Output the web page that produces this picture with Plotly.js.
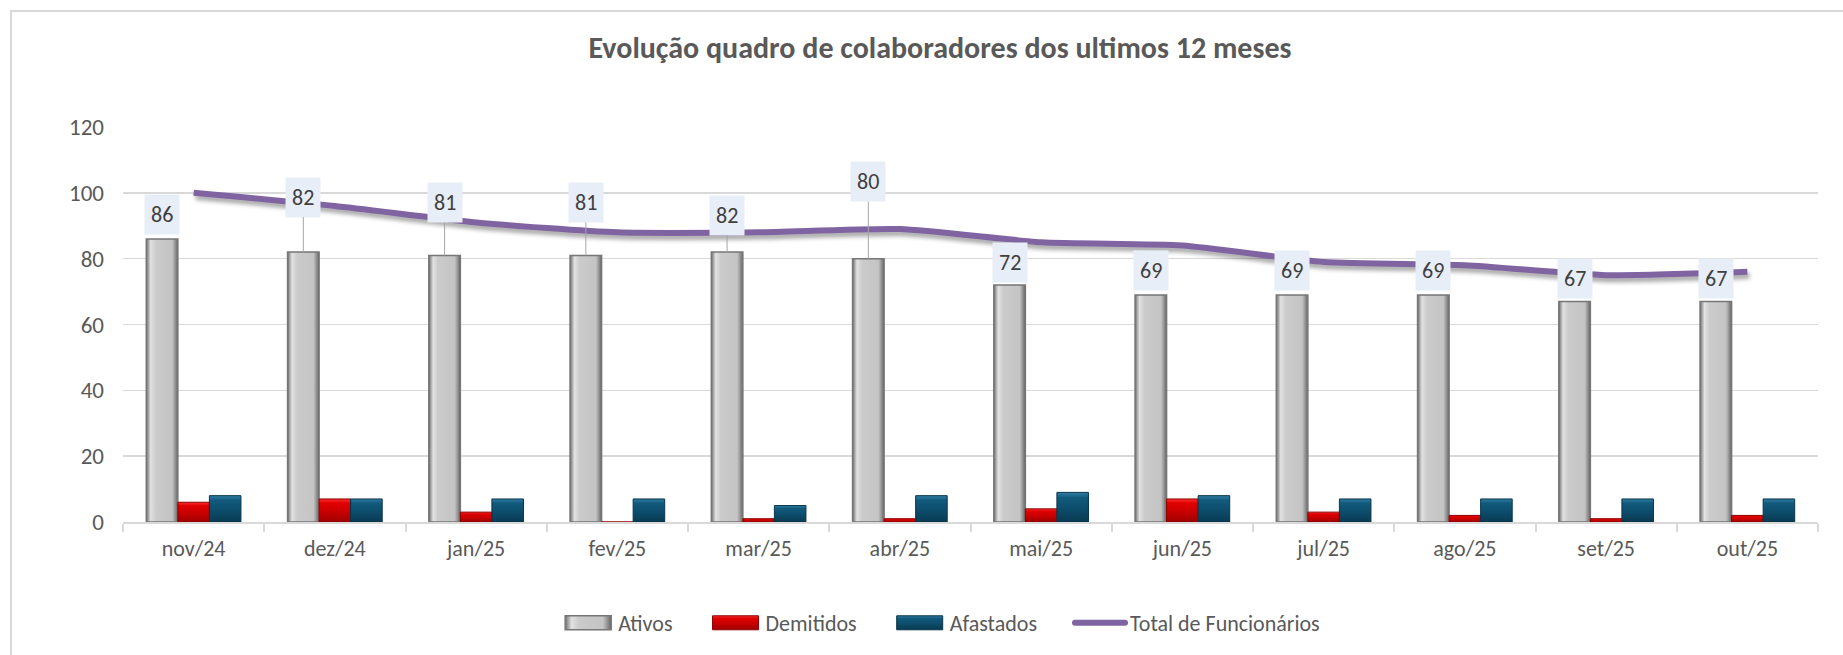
<!DOCTYPE html>
<html>
<head>
<meta charset="utf-8">
<script src="https://cdn.plot.ly/plotly-3.0.1.min.js"></script>
<style>
  html, body { margin: 0; padding: 0; background: #ffffff; overflow: hidden; }
  #frame { position: absolute; left: 10px; top: 10px; width: 1900px; height: 700px;
           border-left: 2px solid #d9d9d9; border-top: 2px solid #d9d9d9; box-sizing: border-box; }
  #chart { position: absolute; left: 0; top: 0; width: 1843px; height: 655px; }
  .scatterlayer .js-line { filter: drop-shadow(2px 4px 2px rgba(0,0,0,0.35)); }
</style>
</head>
<body>
<div id="frame"></div>
<div id="chart"></div>
<script>
// ---- data ----
const months = ["nov/24","dez/24","jan/25","fev/25","mar/25","abr/25","mai/25","jun/25","jul/25","ago/25","set/25","out/25"];
const ativos = [86, 82, 81, 81, 82, 80, 72, 69, 69, 69, 67, 67];
const demitidos = [6, 7, 3, 0, 1, 1, 4, 7, 3, 2, 1, 2];
const afastados = [8, 7, 7, 7, 5, 8, 9, 8, 7, 7, 7, 7];
const totalFuncionarios = [100, 96, 91, 88, 88, 89, 85, 84, 79, 78, 75, 76];
const seriesNames = ["Ativos", "Demitidos", "Afastados", "Total de Funcionários"];
const titleText = "Evolução quadro de colaboradores dos ultimos 12 meses";

// ---- style ----
const labelLift = [-24, -55, -53, -53, -37, -77, -23, -24, -24, -24, -23, -23]; // px lift of each data label
const FONT = "Carlito, Calibri, Lato, 'Open Sans', sans-serif";
const TXT = "#595959";
const BARGAP = 0.33;
const LEGEND_ITEM_W = 50;
const LEGEND_EXTRA_GAP = 28;

const traces = [
  { type: "bar", name: seriesNames[0], x: months, y: ativos,
    marker: { color: "#c8c8c8", line: { color: "#767676", width: 1.5 } }, hoverinfo: "x+y+name" },
  { type: "bar", name: seriesNames[1], x: months, y: demitidos,
    marker: { color: "#d40000", line: { color: "#8a0000", width: 1 } }, hoverinfo: "x+y+name" },
  { type: "bar", name: seriesNames[2], x: months, y: afastados,
    marker: { color: "#0e5272", line: { color: "#0a3449", width: 1 } }, hoverinfo: "x+y+name" },
  { type: "scatter", mode: "lines", name: seriesNames[3], x: months, y: totalFuncionarios,
    line: { color: "#8064a2", width: 6, shape: "spline", smoothing: 0.6 } }
];

// data labels on Ativos bars, placed over the first bar of each group
const barW = (1 - BARGAP) / 3;
const annotations = ativos.map((v, i) => ({
  x: i - barW, y: v, xref: "x", yref: "y",
  text: String(v),
  showarrow: true, arrowhead: 0, arrowwidth: 1,
  arrowcolor: Math.abs(labelLift[i]) > 30 ? "#a6a6a6" : "rgba(0,0,0,0)",
  ax: 0, ay: labelLift[i],
  bgcolor: "#e8eef7", borderpad: 6,
  font: { family: FONT, size: 22, color: "#404040" }
}));

const layout = {
  width: 1843, height: 655,
  margin: { l: 123, r: 25, t: 127, b: 132 },
  paper_bgcolor: "rgba(0,0,0,0)", plot_bgcolor: "rgba(0,0,0,0)",
  font: { family: FONT, color: TXT },
  title: { text: "<b>" + titleText + "</b>", font: { family: FONT, size: 30, color: TXT },
           xref: "paper", x: 0.482, xanchor: "center", yref: "container", y: 0.927, yanchor: "middle" },
  barmode: "group", bargap: BARGAP, bargroupgap: 0,
  xaxis: { type: "category", showgrid: false, showline: true, linecolor: "#d9d9d9", linewidth: 2,
           ticks: "outside", tickson: "boundaries", ticklen: 8, tickcolor: "#d9d9d9", tickwidth: 2,
           tickfont: { family: FONT, size: 22, color: TXT }, ticklabelstandoff: 6, fixedrange: true },
  yaxis: { range: [0, 120], dtick: 20, tick0: 0, showgrid: true, gridcolor: "#d9d9d9", gridwidth: 1.5,
           zeroline: false, showline: false, ticks: "",
           tickfont: { family: FONT, size: 23, color: TXT }, ticklabelstandoff: 18, fixedrange: true },
  legend: { orientation: "h", x: 0.483, xanchor: "center", y: -0.2525, yanchor: "middle",
            font: { family: FONT, size: 22, color: TXT }, itemwidth: LEGEND_ITEM_W, traceorder: "normal" },
  annotations: annotations,
  showlegend: true
};

function parseTranslate(el) {
  const m = /translate\(\s*([-\d.e]+)[ ,]+([-\d.e]+)\s*\)/.exec(el.getAttribute("transform") || "");
  return m ? [parseFloat(m[1]), parseFloat(m[2])] : [0, 0];
}

function addBevel(gd) {
  const svg = gd.querySelector("svg.main-svg");
  const NS = "http://www.w3.org/2000/svg";
  let defs = svg.querySelector("defs");
  if (!defs) { defs = document.createElementNS(NS, "defs"); svg.insertBefore(defs, svg.firstChild); }
  const grads = {
    gAtivos: { dir: [0, 0, 1, 0], stops: [[0, "#6e6e6e"], [0.07, "#a8a8a8"], [0.14, "#e2e2e2"], [0.3, "#cbcbcb"], [0.82, "#c4c4c4"], [0.9, "#9c9c9c"], [1, "#666666"]] },
    gDemit: { dir: [0, 0, 0, 1], stops: [[0, "#ff3030"], [0.18, "#e00000"], [0.5, "#cc0000"], [1, "#a00000"]] },
    gAfast: { dir: [0, 0, 0, 1], stops: [[0, "#2f7ea6"], [0.18, "#125a7c"], [0.5, "#0d4f6e"], [1, "#093a52"]] }
  };
  Object.keys(grads).forEach(id => {
    const g = grads[id];
    const lg = document.createElementNS(NS, "linearGradient");
    lg.setAttribute("id", id);
    lg.setAttribute("x1", g.dir[0]); lg.setAttribute("y1", g.dir[1]);
    lg.setAttribute("x2", g.dir[2]); lg.setAttribute("y2", g.dir[3]);
    g.stops.forEach(s => {
      const st = document.createElementNS(NS, "stop");
      st.setAttribute("offset", s[0]); st.setAttribute("stop-color", s[1]);
      lg.appendChild(st);
    });
    defs.appendChild(lg);
  });
  const ids = ["gAtivos", "gDemit", "gAfast"];
  gd.querySelectorAll(".barlayer .trace.bars").forEach((t, k) => {
    t.querySelectorAll("path").forEach(p => { p.style.fill = "url(#" + ids[k] + ")"; });
  });
  // wider legend swatches and wider spacing, like the spreadsheet legend
  const half = LEGEND_ITEM_W / 2 - 2;
  const items = gd.querySelectorAll(".legend .traces");
  items.forEach((t, k) => {
    if (k < 3) {
      t.querySelectorAll(".legendpoints path").forEach(p => {
        p.setAttribute("d", "M" + (-half) + ",-7H" + half + "V7H" + (-half) + "Z");
        p.style.fill = "url(#" + ids[k] + ")";
      });
    } else {
      t.querySelectorAll(".legendlines path").forEach(p => { p.style.strokeLinecap = "round"; });
    }
    const tr = parseTranslate(t);
    t.setAttribute("transform", "translate(" + (tr[0] + k * LEGEND_EXTRA_GAP) + "," + tr[1] + ")");
  });
  const leg = gd.querySelector("g.legend");
  if (leg) {
    const tr = parseTranslate(leg);
    leg.setAttribute("transform", "translate(" + (tr[0] - (items.length - 1) * LEGEND_EXTRA_GAP / 2) + "," + tr[1] + ")");
    leg.querySelectorAll("[clip-path]").forEach(el => el.removeAttribute("clip-path"));
    leg.removeAttribute("clip-path");
  }
}

Plotly.newPlot("chart", traces, layout, { displayModeBar: false, staticPlot: true })
  .then(gd => addBevel(gd));
</script>
</body>
</html>
